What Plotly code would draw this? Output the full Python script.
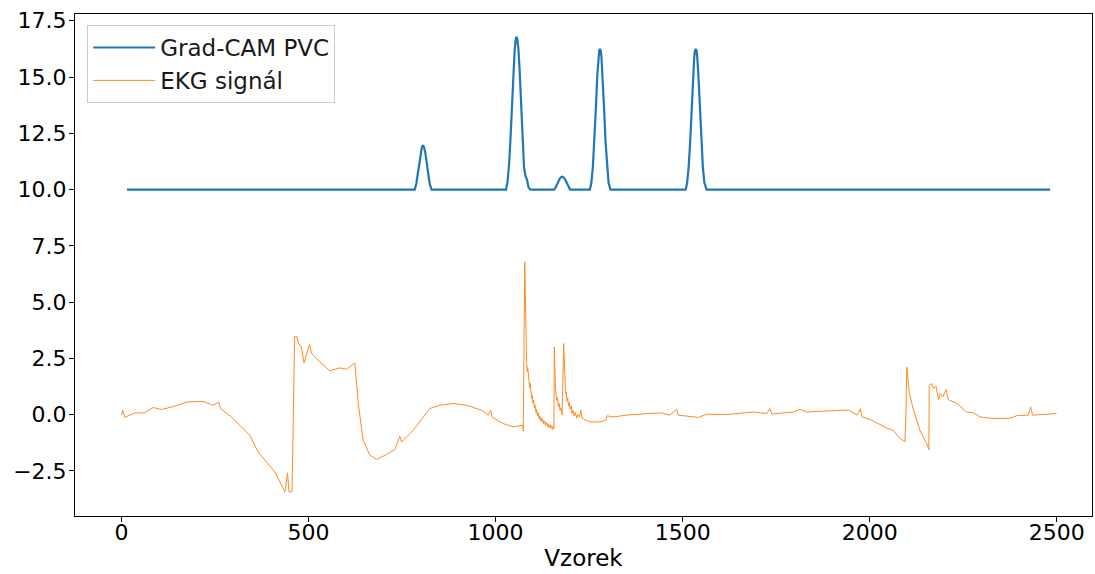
import plotly.graph_objects as go

# ---------------- data ----------------
gradcam_x = [15, 784, 788, 792, 796, 800, 803, 806, 809, 812, 816, 820, 824, 829,
             1028, 1032, 1036, 1040, 1044, 1048, 1051, 1054, 1056, 1058, 1061, 1064,
             1068, 1072, 1076, 1080, 1084, 1088, 1093,
             1156, 1160, 1164, 1168, 1172, 1175, 1178, 1181, 1184, 1188, 1192, 1196, 1199,
             1252, 1256, 1260, 1264, 1268, 1272, 1275, 1277, 1279, 1281, 1283, 1286,
             1290, 1294, 1298, 1302, 1307,
             1508, 1512, 1516, 1520, 1524, 1528, 1531, 1533, 1535, 1537, 1539, 1542,
             1546, 1550, 1554, 1558, 1564,
             2482]
gradcam_y = [10.0, 10.0, 10.25, 10.7, 11.2, 11.65, 11.88, 11.97, 11.88, 11.65, 11.2, 10.7, 10.25, 10.0,
             10.0, 10.35, 11.1, 12.3, 13.8, 15.3, 16.2, 16.7, 16.78, 16.7, 16.25, 15.4,
             13.9, 12.3, 11.0, 10.6, 10.45, 10.1, 10.0,
             10.0, 10.08, 10.22, 10.38, 10.5, 10.55, 10.57, 10.55, 10.5, 10.38, 10.22, 10.08, 10.0,
             10.0, 10.3, 11.0, 12.1, 13.6, 15.1, 15.9, 16.18, 16.25, 16.18, 15.9, 15.1,
             13.6, 12.1, 11.0, 10.3, 10.0,
             10.0, 10.3, 11.0, 12.1, 13.6, 15.1, 15.9, 16.18, 16.25, 16.18, 15.9, 15.1,
             13.6, 12.1, 11.0, 10.3, 10.0,
             10.0]

ekg_x = [0, 4, 9, 36, 62, 85, 107, 143, 174, 218, 245, 260, 265, 294, 334, 343, 365,
         410, 437, 444, 448, 456, 463, 468, 474, 481, 488, 496, 503, 508, 530, 557,
         584, 602, 624, 633, 646, 664, 682, 709, 731, 744, 749, 780, 824, 851, 887,
         922, 963, 980, 987, 991, 1020, 1047, 1072, 1074, 1078,
         1083, 1085, 1086, 1088, 1089, 1091, 1092, 1094, 1095, 1097, 1098, 1100, 1101,
         1104, 1105, 1108, 1109, 1112, 1113, 1117, 1118, 1122, 1123, 1128, 1129,
         1134, 1135, 1140, 1141, 1146, 1147, 1152, 1154, 1156, 1157,
         1160, 1163, 1165, 1168, 1170, 1172, 1175, 1178, 1182,
         1185, 1187, 1189, 1191, 1193, 1195, 1197, 1199, 1202, 1204, 1207, 1210, 1213,
         1217, 1220, 1224, 1228, 1231, 1235, 1240, 1246, 1252, 1265, 1279, 1295,
         1298, 1314, 1350, 1404, 1444, 1466, 1484, 1488, 1519, 1542, 1564, 1618,
         1689, 1725, 1733, 1738, 1769, 1796, 1814, 1832, 1929, 1943, 1967, 1975,
         1979, 2001, 2028, 2045, 2063, 2077, 2094, 2097, 2099, 2102, 2106, 2117,
         2134, 2152, 2158, 2159, 2165, 2171, 2177, 2184, 2188, 2195, 2204, 2210,
         2233, 2259, 2277, 2295, 2330, 2375, 2393, 2424, 2430, 2435, 2473, 2499]
ekg_y = [-0.02, 0.2, -0.12, 0.08, 0.08, 0.32, 0.23, 0.38, 0.56, 0.59, 0.42, 0.56, 0.27,
         -0.1, -0.76, -0.91, -1.65, -2.54, -3.43, -2.59, -3.43, -3.43, 3.46, 3.49,
         3.16, 3.01, 2.3, 2.79, 3.13, 2.72, 2.35, 1.95, 2.08, 2.02, 2.3, 0.5, -1.13,
         -1.8, -1.99, -1.76, -1.55, -0.96, -1.21, -0.69, 0.27, 0.42, 0.5, 0.42, 0.2,
         -0.02, 0.2, -0.12, -0.39, -0.54, -0.47, -0.73, 6.79,
         2.27, 1.9, 2.1, 1.5, 1.7, 1.2, 1.4, 0.95, 1.1, 0.7, 0.85, 0.5, 0.65,
         0.3, 0.45, 0.1, 0.25, -0.05, 0.1, -0.2, -0.05, -0.3, -0.15, -0.4, -0.25,
         -0.48, -0.33, -0.55, -0.4, -0.6, -0.45, -0.65, -0.5, -0.62, 3.01,
         1.2, 0.64, 0.75, 0.35, 0.5, 0.2, 0.3, -0.02, 3.16,
         1.3, 0.94, 1.0, 0.6, 0.75, 0.4, 0.55, 0.25, 0.4, 0.05, 0.2, -0.05, 0.1,
         -0.15, 0.0, -0.1, 0.2, -0.15, -0.2, -0.25, -0.28, -0.32, -0.32, -0.32, -0.24,
         -0.05, -0.1, -0.02, 0.05, 0.08, -0.02, 0.23, -0.02, -0.07, -0.12, 0.02, 0.01,
         0.12, 0.05, 0.27, 0.03, 0.08, 0.12, 0.24, 0.12, 0.2, 0.2, -0.02, 0.27,
         -0.1, -0.21, -0.44, -0.59, -0.69, -0.99, -1.21, 0.2, 2.12, 1.68, 0.94, 0.2,
         -0.69, -1.28, -1.55, 1.31, 1.38, 1.16, 1.26, 0.67, 0.94, 0.79, 1.12, 0.67,
         0.5, 0.12, 0.09, -0.1, -0.17, -0.16, -0.04, -0.02, 0.35, -0.02, 0.01, 0.05]

x_ticks = [0, 500, 1000, 1500, 2000, 2500]
y_ticks = [-2.5, 0.0, 2.5, 5.0, 7.5, 10.0, 12.5, 15.0, 17.5]

# ---------------- figure ----------------
FONT = "DejaVu Sans"
FS = 22
fig = go.Figure()
fig.add_trace(go.Scatter(x=gradcam_x, y=gradcam_y, mode="lines", name="Grad-CAM PVC",
                         line=dict(color="#1f77b4", width=2.2)))
fig.add_trace(go.Scatter(x=ekg_x, y=ekg_y, mode="lines", name="EKG signál",
                         line=dict(color="#ff7f0e", width=1), opacity=0.9))

axis_common = dict(showline=True, linecolor="black", linewidth=1, mirror=True,
                   ticks="outside", ticklen=5, tickwidth=1, tickcolor="black",
                   showgrid=False, zeroline=False, automargin=False,
                   tickfont=dict(family=FONT, size=FS, color="black"))
fig.update_xaxes(range=[-124, 2594], tickvals=x_ticks,
                 ticktext=[str(v) for v in x_ticks],
                 ticklabelstandoff=-8,
                 title=dict(text="Vzorek", font=dict(family=FONT, size=23, color="black"),
                            standoff=5),
                 **axis_common)
fig.update_yaxes(range=[-4.5, 17.8], tickvals=y_ticks,
                 ticktext=[f"{v:.1f}".replace("-", "\u2212") for v in y_ticks],
                 ticklabelstandoff=-2,
                 **axis_common)

fig.update_layout(
    width=1095, height=574,
    margin=dict(l=75, r=3, t=14, b=58),
    paper_bgcolor="white", plot_bgcolor="white",
    font=dict(family=FONT, size=FS, color="black"),
    legend=dict(x=0.012, y=0.978, xanchor="left", yanchor="top",
                bgcolor="rgba(255,255,255,0.8)", bordercolor="#cccccc", borderwidth=1,
                itemwidth=62,
                font=dict(family=FONT, size=23, color="#1a1a1a")),
    showlegend=True,
)

fig.write_html("out.html", config={"displayModeBar": False},
               post_script="document.body.style.margin='0';document.body.style.overflow='hidden';")
